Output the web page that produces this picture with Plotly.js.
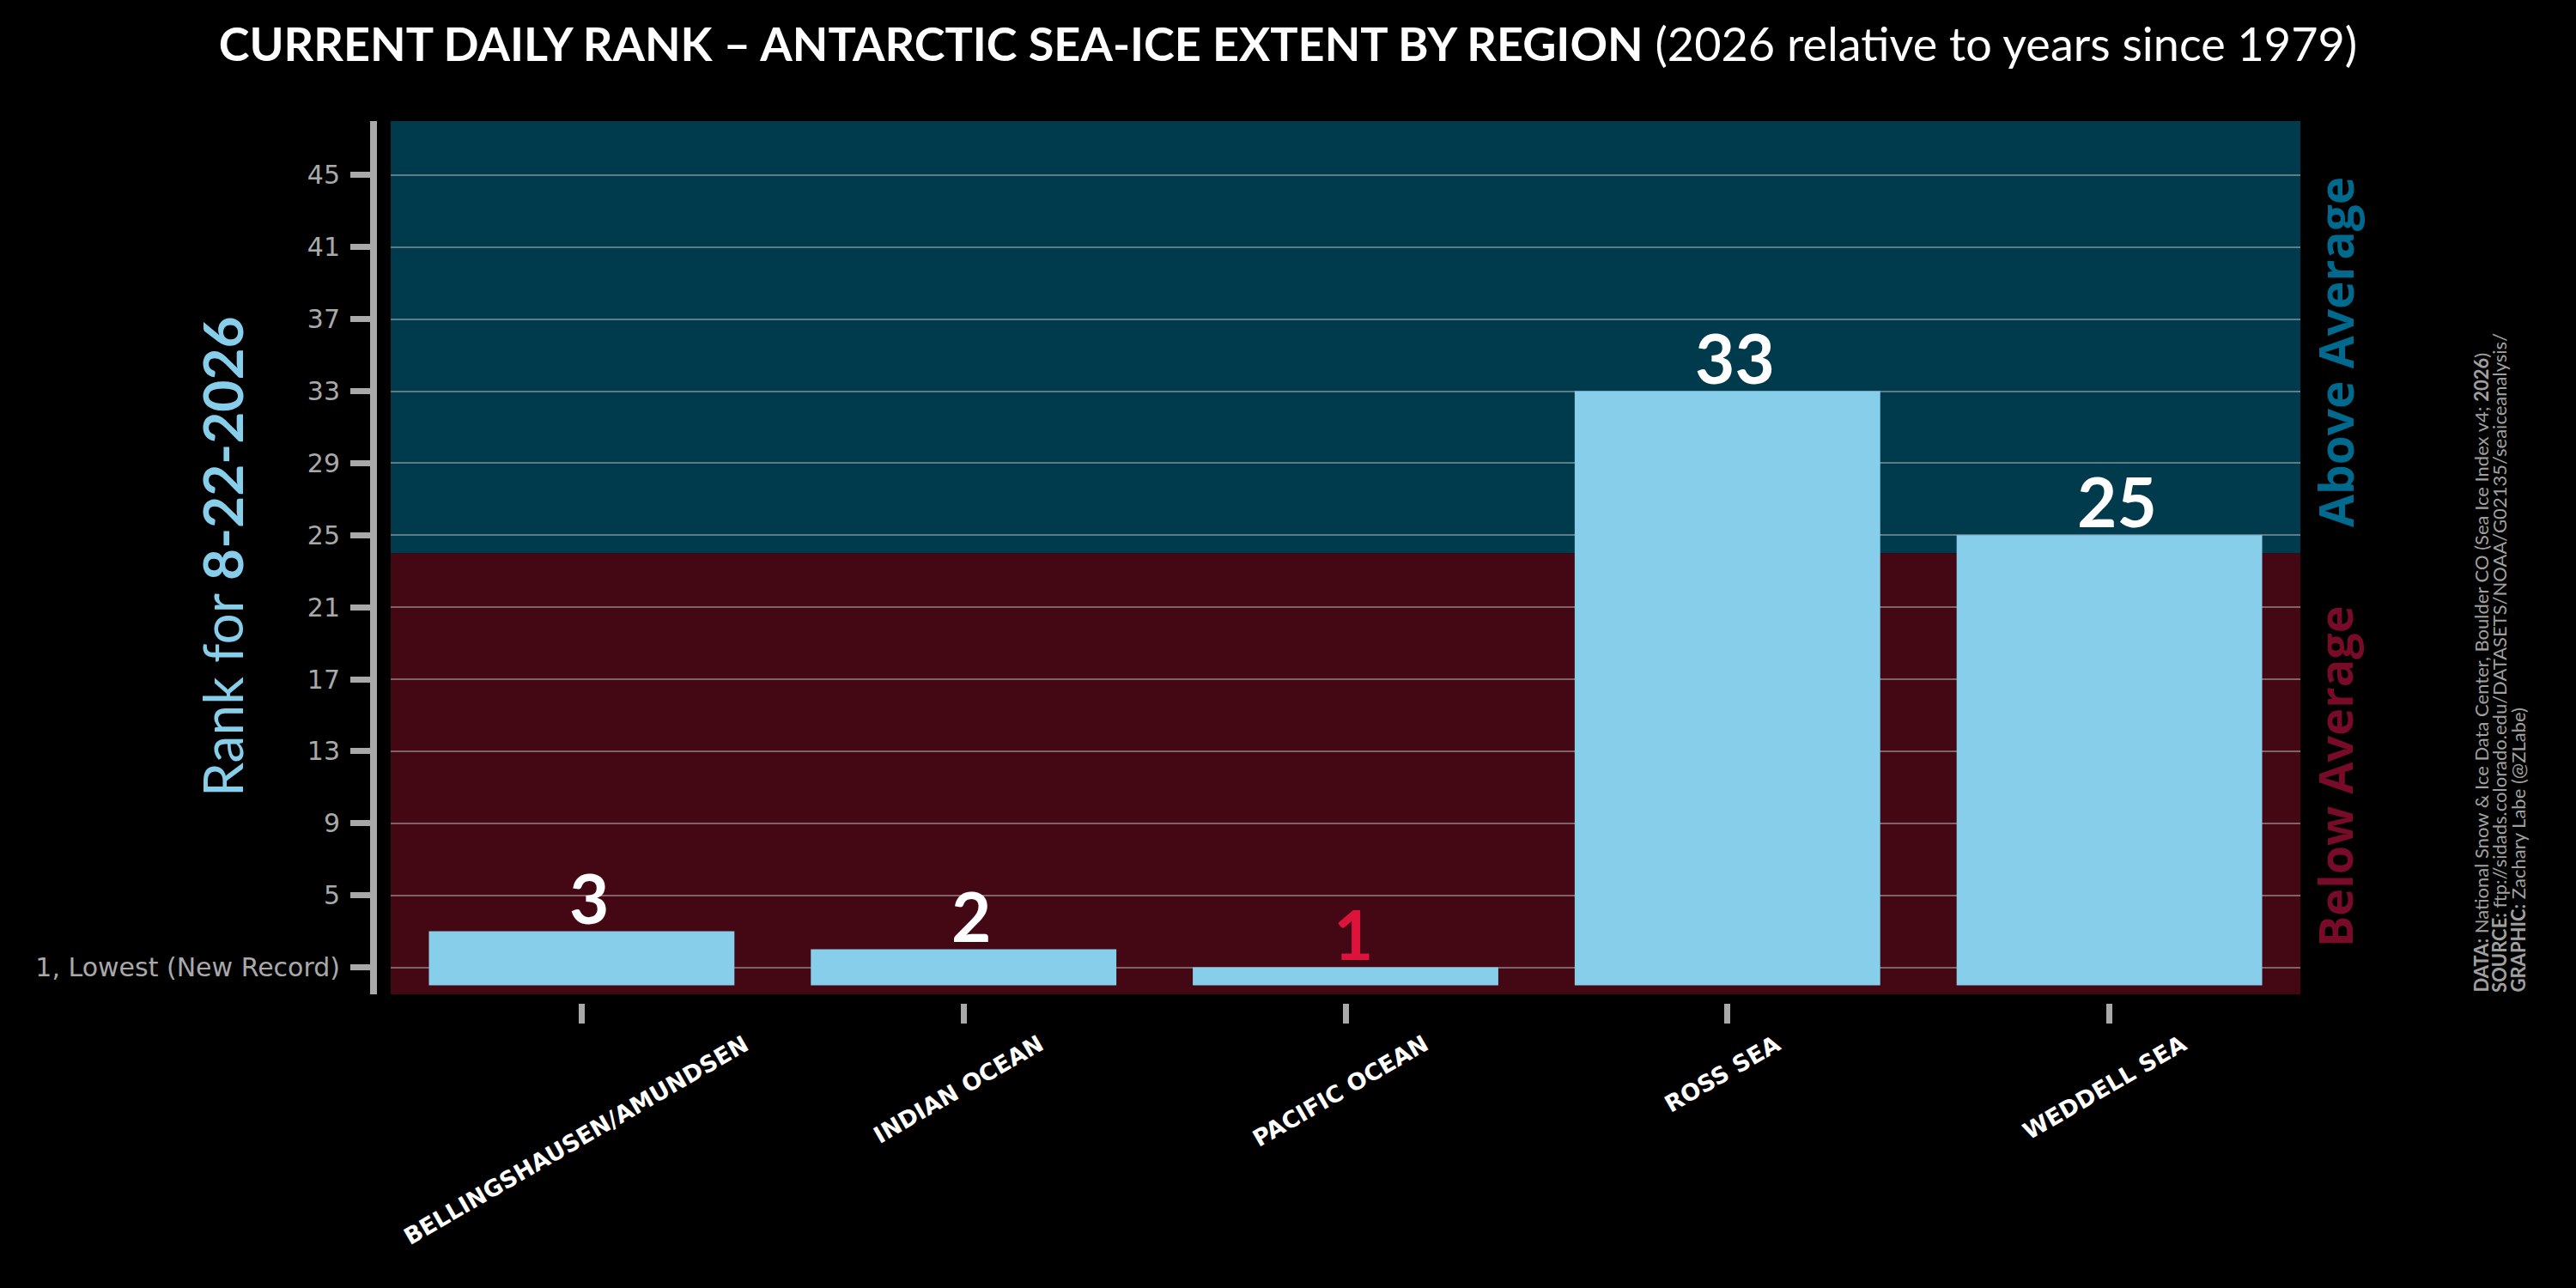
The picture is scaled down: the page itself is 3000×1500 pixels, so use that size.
<!DOCTYPE html>
<html>
<head>
<meta charset="utf-8">
<script src="https://cdn.plot.ly/plotly-3.0.1.min.js"></script>
<style>
  html, body { margin: 0; padding: 0; background: #000000; }
  #chart { width: 3000px; height: 1500px; }
</style>
</head>
<body>
<div id="chart"></div>
<script>
// ---- data ----
const regions = ['BELLINGSHAUSEN/AMUNDSEN', 'INDIAN OCEAN', 'PACIFIC OCEAN', 'ROSS SEA', 'WEDDELL SEA'];
const ranks = [3, 2, 1, 33, 25];
const rankTickVals = [1, 5, 9, 13, 17, 21, 25, 29, 33, 37, 41, 45];
const rankTickLabels = ['1, Lowest (New Record)', '5', '9', '13', '17', '21', '25', '29', '33', '37', '41', '45'];
const medianRank = 24;
const rankRange = [-0.5, 48];
const dateLabel = '8-22-2026';
const creditLines = [
  '<b>DATA:</b> National Snow &amp; Ice Data Center, Boulder CO (Sea Ice Index v4; <b>2026</b>)',
  '<b>SOURCE:</b> ftp://sidads.colorado.edu/DATASETS/NOAA/G02135/seaiceanalysis/',
  '<b>GRAPHIC:</b> Zachary Labe (@ZLabe)'
];

// ---- styling ----
const W = 3000, H = 1500;
const px = v => v / W;
const py = v => 1 - v / H;
const BAR = '#87CEEB';
const GRAY = '#A9A9A9';

const barTrace = {
  type: 'bar',
  x: regions,
  y: ranks,
  base: 0,
  width: 0.8,
  marker: { color: BAR, line: { width: 0 } },
  hoverinfo: 'skip',
  showlegend: false
};

const annotations = [];
// value labels on top of bars
regions.forEach((r, i) => {
  annotations.push({
    x: r, xref: 'x', y: ranks[i], yref: 'y',
    xanchor: 'center', yanchor: 'bottom',
    xshift: 9, yshift: -10,
    text: '<b>' + ranks[i] + '</b>', showarrow: false,
    font: {
      family: 'Liberation Sans Narrow, Lato, sans-serif', size: 80,
      color: ranks[i] === 1 ? '#DC143C' : '#FFFFFF'
    }
  });
});
// category labels
regions.forEach(r => {
  annotations.push({
    x: r, xref: 'x', y: py(1197), yref: 'paper',
    xanchor: 'center', yanchor: 'top', xshift: -6,
    text: '<b>' + r + '</b>', textangle: -30, showarrow: false,
    font: { family: 'DejaVu Sans, sans-serif', size: 27, color: '#FFFFFF' }
  });
});
annotations.push({
  x: px(259), xref: 'paper', y: py(648), yref: 'paper',
  xanchor: 'center', yanchor: 'middle',
  text: 'Rank for <b>' + dateLabel + '</b>', textangle: -90, showarrow: false,
  font: { family: 'Lato, sans-serif', size: 64, color: BAR }
});
annotations.push({
  x: px(2719), xref: 'paper', y: py(410), yref: 'paper',
  xanchor: 'center', yanchor: 'middle',
  text: '<b>Above Average</b>', textangle: -90, showarrow: false,
  font: { family: 'Open Sans, sans-serif', size: 55, color: '#006A8E' }
});
annotations.push({
  x: px(2719), xref: 'paper', y: py(904), yref: 'paper',
  xanchor: 'center', yanchor: 'middle',
  text: '<b>Below Average</b>', textangle: -90, showarrow: false,
  font: { family: 'Open Sans, sans-serif', size: 54, color: '#780C28' }
});
const creditX = [2889, 2910, 2932];
creditLines.forEach((t, i) => {
  annotations.push({
    x: px(creditX[i]), xref: 'paper', y: py(1158), yref: 'paper',
    xanchor: 'center', yanchor: 'bottom',
    text: t, textangle: -90, showarrow: false,
    font: { family: 'Lato, sans-serif', size: 22, color: '#A0A0A0' }
  });
});

const layout = {
  width: W, height: H,
  autosize: false,
  paper_bgcolor: '#000000',
  plot_bgcolor: 'rgba(0,0,0,0)',
  margin: { l: 0, r: 0, t: 0, b: 0, pad: 0 },
  showlegend: false,
  bargap: 0.2,
  title: {
    text: '<b>CURRENT DAILY RANK \u2013 ANTARCTIC SEA-ICE EXTENT BY REGION</b> (2026 relative to years since 1979)',
    x: 0.5, xref: 'paper', xanchor: 'center',
    y: py(52), yref: 'paper', yanchor: 'middle',
    font: { family: 'Lato, sans-serif', size: 54, color: '#FFFFFF' }
  },
  xaxis: {
    type: 'category',
    domain: [px(455), px(2679)],
    range: [-0.5, 4.5],
    anchor: 'free',
    position: py(1168),
    showticklabels: false,
    ticks: 'outside', ticklen: 23, tickwidth: 7, tickcolor: GRAY,
    showline: false, showgrid: false, zeroline: false,
    fixedrange: true
  },
  yaxis: {
    domain: [py(1158), py(141)],
    range: rankRange,
    anchor: 'free',
    position: px(435),
    tickmode: 'array',
    tickvals: rankTickVals,
    ticktext: rankTickLabels,
    ticks: 'outside', ticklen: 23, tickwidth: 7, tickcolor: GRAY,
    ticklabelstandoff: 6,
    tickfont: { family: 'DejaVu Sans, sans-serif', size: 30, color: GRAY },
    showline: true, linecolor: GRAY, linewidth: 8,
    showgrid: true, gridcolor: 'rgba(190,190,190,0.5)', gridwidth: 2,
    zeroline: false,
    fixedrange: true
  },
  shapes: [
    {
      type: 'rect', layer: 'below',
      xref: 'x domain', x0: 0, x1: 1,
      yref: 'y', y0: rankRange[0], y1: medianRank,
      fillcolor: '#430814', line: { width: 0 }
    },
    {
      type: 'rect', layer: 'below',
      xref: 'x domain', x0: 0, x1: 1,
      yref: 'y', y0: medianRank, y1: rankRange[1],
      fillcolor: '#003A4D', line: { width: 0 }
    }
  ],
  annotations: annotations
};

Plotly.newPlot('chart', [barTrace], layout, { displayModeBar: false, responsive: false });
</script>
</body>
</html>
